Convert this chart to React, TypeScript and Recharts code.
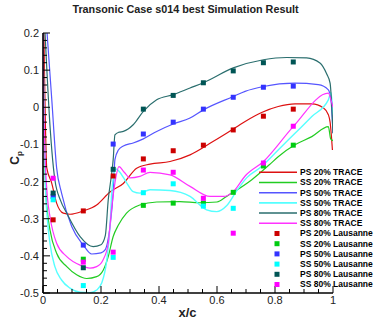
import React from 'react';
import { ComposedChart, Line, Scatter, XAxis, YAxis, Legend } from 'recharts';

// ---- Experimental (Lausanne) data ----
const EXP_X = [0.035, 0.139, 0.242, 0.346, 0.449, 0.553, 0.656, 0.760, 0.863];
const PS20_EXP = [-0.303, -0.279, -0.185, -0.139, -0.117, -0.102, -0.061, -0.024, -0.005];
const SS20_EXP = [null, -0.409, null, -0.264, -0.258, -0.258, -0.229, -0.158, -0.102];
const PS50_EXP = [-0.24, -0.371, -0.099, -0.072, -0.040, -0.005, 0.027, 0.054, 0.057];
const SS50_EXP = [-0.249, -0.480, -0.404, -0.230, -0.206, -0.266, -0.272, null, null];
const PS80_EXP = [-0.231, -0.432, -0.167, -0.005, 0.032, 0.066, 0.098, 0.120, 0.122];
const SS80_EXP = [-0.191, -0.417, -0.390, -0.169, -0.175, -0.245, -0.339, -0.150, -0.051];

// ---- TRACE simulation curves ----
const PS20_X = [0.003, 0.013, 0.03, 0.047, 0.07, 0.093, 0.139, 0.185, 0.231, 0.277, 0.323, 0.369, 0.438, 0.507, 0.576, 0.633, 0.697, 0.754, 0.811, 0.869, 0.927, 0.967, 0.984, 0.99, 0.998];
const PS20_Y = [0.2, -0.163, -0.204, -0.258, -0.285, -0.288, -0.279, -0.263, -0.228, -0.205, -0.164, -0.153, -0.146, -0.128, -0.097, -0.070, -0.038, -0.014, 0.002, 0.009, 0.009, -0.002, -0.020, -0.04, -0.115];

const SS20_X = [0.0, 0.004, 0.008, 0.015, 0.024, 0.047, 0.082, 0.116, 0.151, 0.185, 0.208, 0.225, 0.242, 0.26, 0.288, 0.334, 0.392, 0.472, 0.54, 0.6, 0.633, 0.656, 0.72, 0.783, 0.811, 0.869, 0.927, 0.984, 0.992, 1.0];
const SS20_Y = [0.2, -0.05, -0.2, -0.28, -0.33, -0.393, -0.429, -0.451, -0.461, -0.456, -0.438, -0.402, -0.348, -0.317, -0.285, -0.263, -0.255, -0.254, -0.257, -0.255, -0.240, -0.229, -0.195, -0.153, -0.133, -0.101, -0.079, -0.052, -0.085, -0.09];

const PS50_X = [0.014, 0.03, 0.047, 0.064, 0.099, 0.139, 0.168, 0.2, 0.214, 0.231, 0.242, 0.248, 0.26, 0.277, 0.311, 0.346, 0.392, 0.449, 0.507, 0.553, 0.656, 0.697, 0.760, 0.869, 0.949, 0.984, 0.993, 1.0];
const PS50_Y = [0.2, 0.024, -0.163, -0.231, -0.321, -0.371, -0.395, -0.392, -0.384, -0.321, -0.231, -0.141, -0.115, -0.104, -0.096, -0.085, -0.065, -0.045, -0.029, -0.007, 0.029, 0.043, 0.056, 0.065, 0.061, 0.047, 0.02, -0.07];

const SS50_X = [0.0, 0.004, 0.008, 0.015, 0.024, 0.041, 0.064, 0.093, 0.128, 0.162, 0.185, 0.202, 0.22, 0.231, 0.237, 0.243, 0.252, 0.262, 0.289, 0.311, 0.334, 0.369, 0.438, 0.507, 0.564, 0.599, 0.633, 0.668, 0.702, 0.748, 0.811, 0.869, 0.927, 0.984, 0.993, 1.0];
const SS50_Y = [0.2, -0.05, -0.2, -0.3, -0.366, -0.429, -0.465, -0.487, -0.498, -0.499, -0.492, -0.474, -0.411, -0.321, -0.231, -0.187, -0.166, -0.172, -0.204, -0.227, -0.231, -0.222, -0.224, -0.240, -0.276, -0.281, -0.265, -0.225, -0.19, -0.163, -0.115, -0.070, -0.025, 0.020, 0.04, -0.02];

const PS80_X = [0.007, 0.025, 0.036, 0.041, 0.06, 0.082, 0.128, 0.173, 0.2, 0.215, 0.225, 0.237, 0.242, 0.248, 0.262, 0.277, 0.311, 0.346, 0.392, 0.449, 0.507, 0.553, 0.656, 0.760, 0.840, 0.909, 0.955, 0.978, 0.99, 1.0];
const PS80_Y = [0.2, -0.06, -0.163, -0.195, -0.25, -0.285, -0.348, -0.375, -0.37, -0.345, -0.249, -0.177, -0.141, -0.074, -0.067, -0.065, -0.047, -0.011, 0.020, 0.034, 0.052, 0.066, 0.106, 0.128, 0.134, 0.133, 0.119, 0.09, 0.065, -0.07];

const SS80_X = [0.0, 0.004, 0.008, 0.015, 0.024, 0.047, 0.082, 0.128, 0.162, 0.185, 0.207, 0.225, 0.236, 0.248, 0.262, 0.28, 0.30, 0.334, 0.369, 0.438, 0.507, 0.576, 0.622, 0.656, 0.697, 0.760, 0.863, 0.984, 0.993, 1.0];
const SS80_Y = [0.2, -0.05, -0.15, -0.24, -0.294, -0.366, -0.402, -0.425, -0.433, -0.429, -0.411, -0.366, -0.276, -0.204, -0.16, -0.175, -0.19, -0.186, -0.175, -0.182, -0.213, -0.240, -0.240, -0.227, -0.185, -0.146, -0.052, 0.038, 0.02, 0.0];

// ---- Tick labels ----
const X_MAJOR = [0, 0.2, 0.4, 0.6, 0.8, 1];
const Y_MAJOR = [-0.5, -0.4, -0.3, -0.2, -0.1, 0, 0.1, 0.2];

const TITLE = 'Transonic Case s014 best Simulation Result';

const FONT = '"Liberation Sans", Arial, Helvetica, sans-serif';

const toPts = (xs: number[], ys: (number | null)[]) =>
  xs.map((x, i) => ({ x, y: ys[i] })).filter((p) => p.y !== null && p.y !== undefined);

const withMinor = (major: number[], n: number) => {
  const out: number[] = [];
  for (let i = 0; i < major.length - 1; i++) {
    const step = (major[i + 1] - major[i]) / n;
    for (let k = 0; k < n; k++) out.push(+(major[i] + k * step).toFixed(4));
  }
  out.push(major[major.length - 1]);
  return out;
};
const X_TICKS = withMinor(X_MAJOR, 4);
const Y_TICKS = withMinor(Y_MAJOR, 5);
const isMajor = (v: number, arr: number[]) => arr.some((m) => Math.abs(m - v) < 1e-6);

const LINES = [
  { name: 'PS 20% TRACE', xs: PS20_X, ys: PS20_Y, color: '#dd1111', w: 1.2 },
  { name: 'SS 20% TRACE', xs: SS20_X, ys: SS20_Y, color: '#22cc22', w: 1.2 },
  { name: 'PS 50% TRACE', xs: PS50_X, ys: PS50_Y, color: '#5555ff', w: 1.2 },
  { name: 'SS 50% TRACE', xs: SS50_X, ys: SS50_Y, color: '#55ffff', w: 1.4 },
  { name: 'PS 80% TRACE', xs: PS80_X, ys: PS80_Y, color: '#2a6e6e', w: 1.2 },
  { name: 'SS 80% TRACE', xs: SS80_X, ys: SS80_Y, color: '#ff33ff', w: 1.2 },
];
const MARKS = [
  { name: 'PS 20% Lausanne', ys: PS20_EXP, color: '#cc0000' },
  { name: 'SS 20% Lausanne', ys: SS20_EXP, color: '#00cc11' },
  { name: 'PS 50% Lausanne', ys: PS50_EXP, color: '#3333ff' },
  { name: 'SS 50% Lausanne', ys: SS50_EXP, color: '#00ffff' },
  { name: 'PS 80% Lausanne', ys: PS80_EXP, color: '#005555' },
  { name: 'SS 80% Lausanne', ys: SS80_EXP, color: '#ff00ff' },
];

const XTick = (props: any) => {
  const { x, y, payload } = props;
  const major = isMajor(payload.value, X_MAJOR);
  return (
    <g>
      <line x1={x} x2={x} y1={y} y2={y - (major ? 7 : 4)} stroke="#000" strokeWidth={1} />
      {major && (
        <text x={x} y={y + 10.5} textAnchor="middle" fontSize={11} fontFamily={FONT} fill="#222">
          {String(payload.value)}
        </text>
      )}
    </g>
  );
};

const YTick = (props: any) => {
  const { x, y, payload } = props;
  const major = isMajor(payload.value, Y_MAJOR);
  return (
    <g>
      <line x1={x} x2={x + (major ? 7 : 4)} y1={y} y2={y} stroke="#000" strokeWidth={1} />
      {major && (
        <text x={x - 4} y={y} dy="0.36em" textAnchor="end" fontSize={11} fontFamily={FONT} fill="#222">
          {String(payload.value)}
        </text>
      )}
    </g>
  );
};

const renderLegend = () => {
  const rows = [
    ...LINES.map((l) => ({ kind: 'line', name: l.name, color: l.color, w: l.w })),
    ...MARKS.map((m) => ({ kind: 'mark', name: m.name, color: m.color, w: 0 })),
  ];
  return (
    <svg width={125} height={130} style={{ display: 'block', overflow: 'visible' }}>
      {rows.map((r, i) => {
        const cy = 7.3 + i * 10.2;
        return (
          <g key={r.name}>
            {r.kind === 'line' ? (
              <line x1={4} x2={42} y1={cy} y2={cy} stroke={r.color} strokeWidth={r.w + 0.3} />
            ) : (
              <rect x={19.5} y={cy - 2.5} width={5} height={5} fill={r.color} />
            )}
            <text x={45} y={cy} dy="0.35em" fontSize={8.5} fontWeight="bold" fontFamily={FONT} fill="#000">
              {r.name}
            </text>
          </g>
        );
      })}
    </svg>
  );
};

const square = (color: string) => (props: any) => {
  const { cx, cy } = props;
  if (cx == null || cy == null) return <g />;
  return <rect x={cx - 2.5} y={cy - 2.5} width={5} height={5} fill={color} />;
};

export default function App() {
  return (
    <div style={{ position: 'absolute', left: 0, top: 0, width: 380, height: 322, background: '#fff' }}>
      <div
        style={{
          position: 'absolute',
          left: 0,
          width: 371,
          top: 2,
          textAlign: 'center',
          fontFamily: FONT,
          fontWeight: 'bold',
          fontSize: 10.8,
          color: '#222',
          lineHeight: '14px',
          zIndex: 2,
        }}
      >
        {TITLE}
      </div>
      <ComposedChart width={380} height={322} margin={{ top: 33, right: 47, bottom: 0, left: 0 }}>
        <XAxis
          type="number"
          dataKey="x"
          domain={[0, 1]}
          ticks={X_TICKS}
          interval={0}
          allowDataOverflow
          height={29}
          tickSize={0}
          tickMargin={0}
          tickLine={false}
          axisLine={{ stroke: '#000', strokeWidth: 1.6 }}
          tick={<XTick />}
          label={() => (
            <text x={187.5} y={317} textAnchor="middle" fontSize={13} fontWeight="bold" fontFamily={FONT} fill="#222">
              x/c
            </text>
          )}
        />
        <YAxis
          type="number"
          dataKey="y"
          domain={[-0.5, 0.2]}
          ticks={Y_TICKS}
          interval={0}
          allowDataOverflow
          width={43}
          tickSize={0}
          tickMargin={0}
          tickLine={false}
          axisLine={{ stroke: '#000', strokeWidth: 1.6 }}
          tick={<YTick />}
          label={() => (
            <text
              x={19}
              y={158}
              transform="rotate(-90 19 158)"
              textAnchor="middle"
              fontSize={12}
              fontWeight="bold"
              fontFamily={FONT}
              fill="#222"
            >
              C<tspan fontSize={8} dy={3}>p</tspan>
            </text>
          )}
        />
        {LINES.map((l) => (
          <Line
            key={l.name}
            name={l.name}
            data={toPts(l.xs, l.ys)}
            dataKey="y"
            type="monotone"
            stroke={l.color}
            strokeWidth={l.w}
            dot={false}
            activeDot={false}
            isAnimationActive={false}
          />
        ))}
        {MARKS.map((m) => (
          <Scatter
            key={m.name}
            name={m.name}
            data={toPts(EXP_X, m.ys)}
            fill={m.color}
            shape={square(m.color)}
            isAnimationActive={false}
          />
        ))}
        <Legend
          layout="vertical"
          align="center"
          verticalAlign="middle"
          content={renderLegend}
          wrapperStyle={{ position: 'absolute', left: 255, top: 165, width: 125, height: 130 }}
        />
      </ComposedChart>
    </div>
  );
}
